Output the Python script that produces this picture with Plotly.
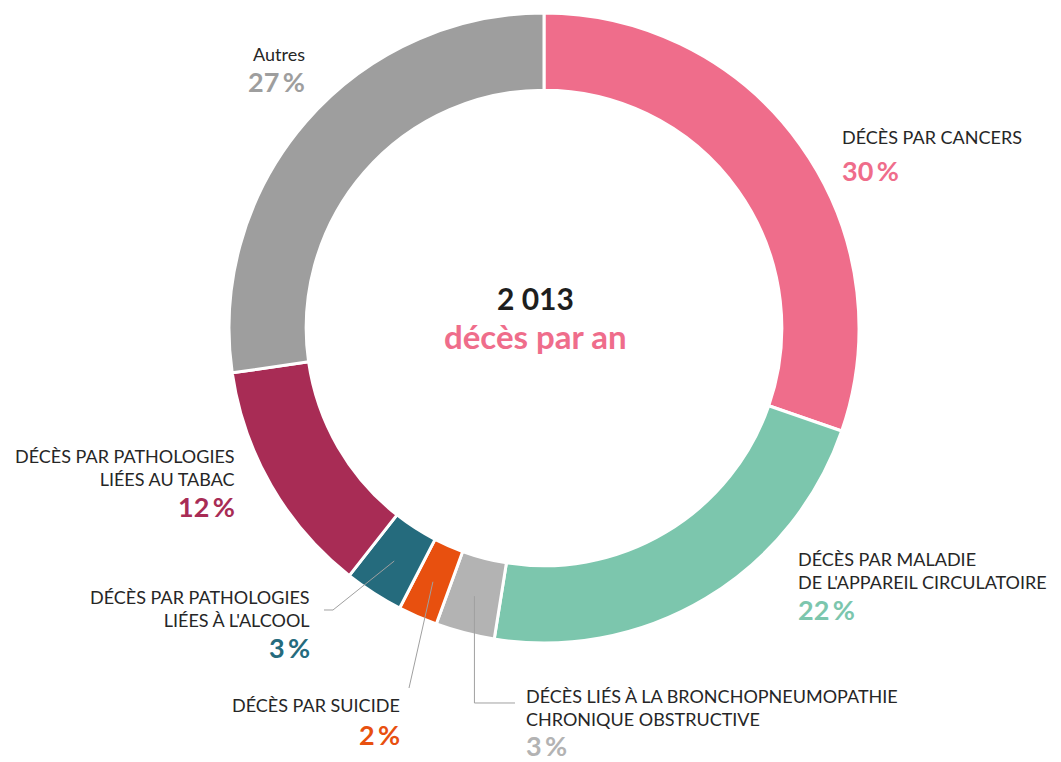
import math
import plotly.graph_objects as go

# Causes of death, clockwise from 12 o'clock
categories = [
    "DÉCÈS PAR CANCERS",
    "DÉCÈS PAR MALADIE<br>DE L'APPAREIL CIRCULATOIRE",
    "DÉCÈS LIÉS À LA BRONCHOPNEUMOPATHIE<br>CHRONIQUE OBSTRUCTIVE",
    "DÉCÈS PAR SUICIDE",
    "DÉCÈS PAR PATHOLOGIES<br>LIÉES À L'ALCOOL",
    "DÉCÈS PAR PATHOLOGIES<br>LIÉES AU TABAC",
    "Autres",
]
shares = [30, 22, 3, 2, 3, 12, 27]
colors = ["#EF6D8B", "#7CC6AD", "#B3B3B3", "#E8500F", "#256B7D", "#A82C55", "#9E9E9E"]
total_deaths = "2 013"
center_caption = "décès par an"

W, H = 1061, 762
CX, CY, R_OUT = 544, 328, 315
HOLE = 0.755
FONT = "Lato"
LABEL_SIZE = 18
PCT_SIZE = 27


def paper(x, y):
    return x / W, 1 - y / H


fig = go.Figure(
    go.Pie(
        labels=[c.replace("<br>", " ") for c in categories],
        values=shares,
        sort=False,
        direction="clockwise",
        rotation=0,
        hole=HOLE,
        textinfo="none",
        marker=dict(colors=colors, line=dict(color="white", width=3)),
        domain=dict(
            x=[(CX - R_OUT) / W, (CX + R_OUT) / W],
            y=[1 - (CY + R_OUT) / H, 1 - (CY - R_OUT) / H],
        ),
        showlegend=False,
    )
)

# Label blocks: anchor x px, first-line centre y px, percentage centre y px, alignment
label_layout = [
    (841, 136, 170, "left"),
    (797, 558, 609, "left"),
    (525, 695, 745.5, "left"),
    (401, 704, 734, "right"),
    (311, 596, 647, "right"),
    (236, 455, 506, "right"),
    (306, 53, 81, "right"),
]

annotations = []
for cat, val, col, (ax, ly, py, xa) in zip(categories, shares, colors, label_layout):
    x, y = paper(ax, ly - 0.6 * LABEL_SIZE)
    annotations.append(dict(
        x=x, y=y, xref="paper", yref="paper", xanchor=xa, yanchor="top",
        text=cat, showarrow=False, align=xa, borderpad=0,
        font=dict(family=FONT, size=LABEL_SIZE, color="#262626"),
    ))
    x, y = paper(ax, py)
    annotations.append(dict(
        x=x, y=y, xref="paper", yref="paper", xanchor=xa, yanchor="middle",
        text=f"<b>{val}\u2009%</b>", showarrow=False, borderpad=0,
        font=dict(family=FONT, size=PCT_SIZE, color=col),
    ))

# Centre caption: total and unit on two lines
x, y = paper(CX - 9, 298)
annotations.append(dict(
    x=x, y=y, xref="paper", yref="paper", showarrow=False, yanchor="middle",
    text=f"<b>{total_deaths}</b>", borderpad=0,
    font=dict(family=FONT, size=30, color="#1E1E1E"),
))
x, y = paper(CX - 9, 336)
annotations.append(dict(
    x=x, y=y, xref="paper", yref="paper", showarrow=False, yanchor="middle",
    text=f"<b>{center_caption}</b>", borderpad=0,
    font=dict(family=FONT, size=33, color="#EF6D8B"),
))

# Leader lines for the small slices, starting at the slice mid-angle
total = sum(shares)
cum = [sum(shares[:i]) for i in range(len(shares))]


def slice_point(i, r=277):
    theta = 2 * math.pi * (cum[i] + shares[i] / 2) / total
    return CX + r * math.sin(theta), CY - r * math.cos(theta)


leader_paths = {
    2: lambda sx, sy: [(sx, sy), (sx, 703), (515, 703)],
    3: lambda sx, sy: [(sx, sy), (409, 688)],
    4: lambda sx, sy: [(sx, sy), (333, 610), (324, 610)],
}
shapes = []
for i, builder in leader_paths.items():
    pts = builder(*slice_point(i))
    path = "M " + " L ".join(f"{px / W:.5f},{1 - py / H:.5f}" for px, py in pts)
    shapes.append(dict(type="path", path=path, xref="paper", yref="paper",
                       line=dict(color="#A0A0A0", width=1)))

fig.update_layout(
    width=W, height=H,
    margin=dict(l=0, r=0, t=0, b=0),
    paper_bgcolor="white", plot_bgcolor="white",
    annotations=annotations, shapes=shapes,
    font=dict(family=FONT),
)

fig.write_html("out.html")
